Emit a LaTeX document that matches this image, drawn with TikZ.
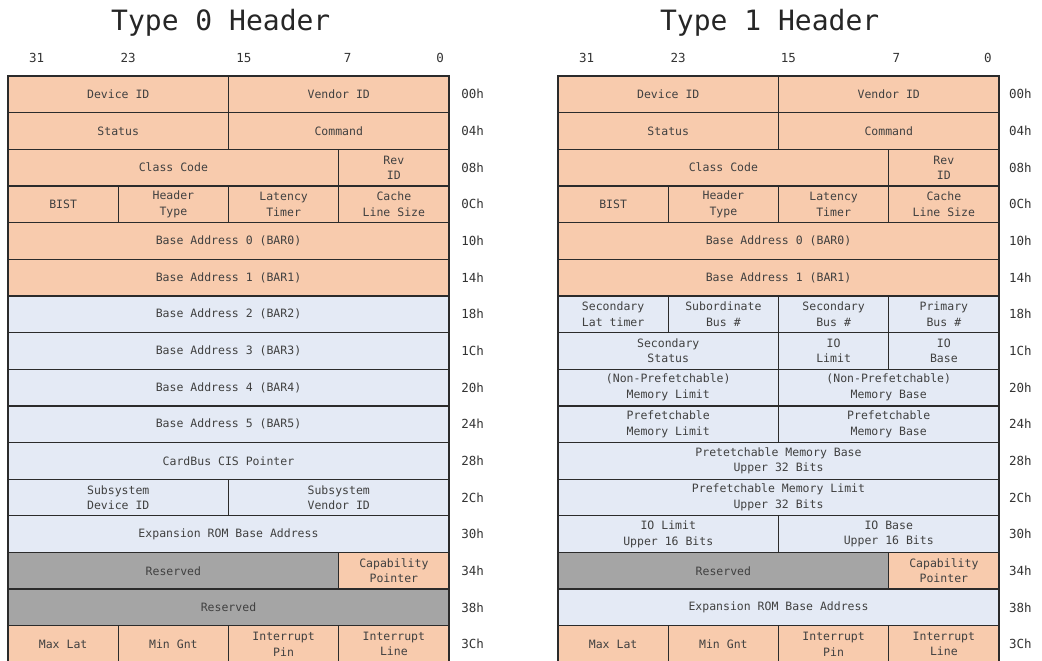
\documentclass[tikz,border=0pt]{standalone}
\usepackage{fontspec}
\setmonofont{DejaVu Sans Mono}
\usetikzlibrary{positioning}
\definecolor{regorange}{HTML}{F8CBAD}
\definecolor{regblue}{HTML}{E4EAF5}
\definecolor{reggray}{HTML}{A5A5A5}
\definecolor{regline}{HTML}{2B2B2B}
\definecolor{regtext}{HTML}{404040}

% one register field: name, first column, columns spanned, row, fill, text
\newcommand{\regfield}[6]{%
  \node[field=#5, minimum width=#3*110.25pt] (#1) at ({#2+#3/2},{#4+0.5}) {#6};}

\begin{document}
\begin{tikzpicture}[
    x=1pt, y=-1pt,
    every node/.style={font=\ttfamily},
    field/.style={draw=regline, fill=#1, line width=1.3pt, inner sep=0pt,
                  minimum height=36.65pt, align=center, text=regtext,
                  font=\ttfamily\fontsize{11.5}{15.5}\selectfont},
    title/.style={text=black!85, font=\ttfamily\fontsize{28}{30}\selectfont},
    bitnum/.style={text=black!80, font=\ttfamily\fontsize{12.5}{14}\selectfont},
    offset/.style={text=black!80, font=\ttfamily\fontsize{12.5}{14}\selectfont, anchor=west},
]

% Page
\useasboundingbox[fill=white] (0,0) rectangle (1042,661);

% =============================================
% LEFT: TYPE 0 HEADER
% =============================================
\begin{scope}[shift={(8,76)}, x=110.25pt, y=-36.65pt]
\node[title] (atitle) at (1.93,-1.45) {Type 0 Header};
\foreach \b/\x in {31/0.26,23/1.09,15/2.14,7/3.08,0/3.92}
  {\node[bitnum] (abit\b) at (\x,-0.49) {\b};}

\regfield{adevid}{0}{2}{0}{regorange}{Device ID}
\regfield{avenid}{2}{2}{0}{regorange}{Vendor ID}
\regfield{astatus}{0}{2}{1}{regorange}{Status}
\regfield{acommand}{2}{2}{1}{regorange}{Command}
\regfield{aclass}{0}{3}{2}{regorange}{Class Code}
\regfield{arev}{3}{1}{2}{regorange}{Rev\\ID}
\regfield{abist}{0}{1}{3}{regorange}{BIST}
\regfield{ahdr}{1}{1}{3}{regorange}{Header\\Type}
\regfield{alat}{2}{1}{3}{regorange}{Latency\\Timer}
\regfield{acache}{3}{1}{3}{regorange}{Cache\\Line Size}
\regfield{abar0}{0}{4}{4}{regorange}{Base Address 0 (BAR0)}
\regfield{abar1}{0}{4}{5}{regorange}{Base Address 1 (BAR1)}
\foreach \n in {2,...,5}
  {\regfield{abar\n}{0}{4}{\n+4}{regblue}{Base Address \n\ (BAR\n)}}
\regfield{acis}{0}{4}{10}{regblue}{CardBus CIS Pointer}
\regfield{asubdev}{0}{2}{11}{regblue}{Subsystem\\Device ID}
\regfield{asubven}{2}{2}{11}{regblue}{Subsystem\\Vendor ID}
\regfield{arom}{0}{4}{12}{regblue}{Expansion ROM Base Address}
\regfield{ares}{0}{3}{13}{reggray}{Reserved}
\regfield{acap}{3}{1}{13}{regorange}{Capability\\Pointer}
\regfield{aresb}{0}{4}{14}{reggray}{Reserved}
\regfield{amaxlat}{0}{1}{15}{regorange}{Max Lat}
\regfield{amingnt}{1}{1}{15}{regorange}{Min Gnt}
\regfield{aintpin}{2}{1}{15}{regorange}{Interrupt\\Pin}
\regfield{aintline}{3}{1}{15}{regorange}{Interrupt\\Line}

\foreach \off [count=\r from 1] in {00h,04h,08h,0Ch,10h,14h,18h,1Ch,20h,24h,28h,2Ch,30h,34h,38h,3Ch}
  {\node[offset] (aoff\r) at (4.08,\r-0.5) {\off};}
\end{scope}

% =============================================
% RIGHT: TYPE 1 HEADER
% =============================================
\begin{scope}[shift={(558,76)}, x=110.25pt, y=-36.65pt]
\node[title] (btitle) at (1.92,-1.45) {Type 1 Header};
\foreach \b/\x in {31/0.26,23/1.09,15/2.09,7/3.07,0/3.9}
  {\node[bitnum] (bbit\b) at (\x,-0.49) {\b};}

\regfield{bdevid}{0}{2}{0}{regorange}{Device ID}
\regfield{bvenid}{2}{2}{0}{regorange}{Vendor ID}
\regfield{bstatus}{0}{2}{1}{regorange}{Status}
\regfield{bcommand}{2}{2}{1}{regorange}{Command}
\regfield{bclass}{0}{3}{2}{regorange}{Class Code}
\regfield{brev}{3}{1}{2}{regorange}{Rev\\ID}
\regfield{bbist}{0}{1}{3}{regorange}{BIST}
\regfield{bhdr}{1}{1}{3}{regorange}{Header\\Type}
\regfield{blat}{2}{1}{3}{regorange}{Latency\\Timer}
\regfield{bcache}{3}{1}{3}{regorange}{Cache\\Line Size}
\regfield{bbar0}{0}{4}{4}{regorange}{Base Address 0 (BAR0)}
\regfield{bbar1}{0}{4}{5}{regorange}{Base Address 1 (BAR1)}
\regfield{bseclat}{0}{1}{6}{regblue}{Secondary\\Lat timer}
\regfield{bsubbus}{1}{1}{6}{regblue}{Subordinate\\Bus \#}
\regfield{bsecbus}{2}{1}{6}{regblue}{Secondary\\Bus \#}
\regfield{bpribus}{3}{1}{6}{regblue}{Primary\\Bus \#}
\regfield{bsecstat}{0}{2}{7}{regblue}{Secondary\\Status}
\regfield{biolim}{2}{1}{7}{regblue}{IO\\Limit}
\regfield{biobase}{3}{1}{7}{regblue}{IO\\Base}
\regfield{bmemlim}{0}{2}{8}{regblue}{(Non-Prefetchable)\\Memory Limit}
\regfield{bmembase}{2}{2}{8}{regblue}{(Non-Prefetchable)\\Memory Base}
\regfield{bpflim}{0}{2}{9}{regblue}{Prefetchable\\Memory Limit}
\regfield{bpfbase}{2}{2}{9}{regblue}{Prefetchable\\Memory Base}
\regfield{bpfbaseup}{0}{4}{10}{regblue}{Pretetchable Memory Base\\Upper 32 Bits}
\regfield{bpflimup}{0}{4}{11}{regblue}{Prefetchable Memory Limit\\Upper 32 Bits}
\regfield{biolimup}{0}{2}{12}{regblue}{IO Limit\\Upper 16 Bits}
\regfield{biobaseup}{2}{2}{12}{regblue}{IO Base\\Upper 16 Bits}
\regfield{bres}{0}{3}{13}{reggray}{Reserved}
\regfield{bcap}{3}{1}{13}{regorange}{Capability\\Pointer}
\regfield{brom}{0}{4}{14}{regblue}{Expansion ROM Base Address}
\regfield{bmaxlat}{0}{1}{15}{regorange}{Max Lat}
\regfield{bmingnt}{1}{1}{15}{regorange}{Min Gnt}
\regfield{bintpin}{2}{1}{15}{regorange}{Interrupt\\Pin}
\regfield{bintline}{3}{1}{15}{regorange}{Interrupt\\Line}

\foreach \off [count=\r from 1] in {00h,04h,08h,0Ch,10h,14h,18h,1Ch,20h,24h,28h,2Ch,30h,34h,38h,3Ch}
  {\node[offset] (boff\r) at (4.06,\r-0.5) {\off};}
\end{scope}

\end{tikzpicture}
\end{document}
